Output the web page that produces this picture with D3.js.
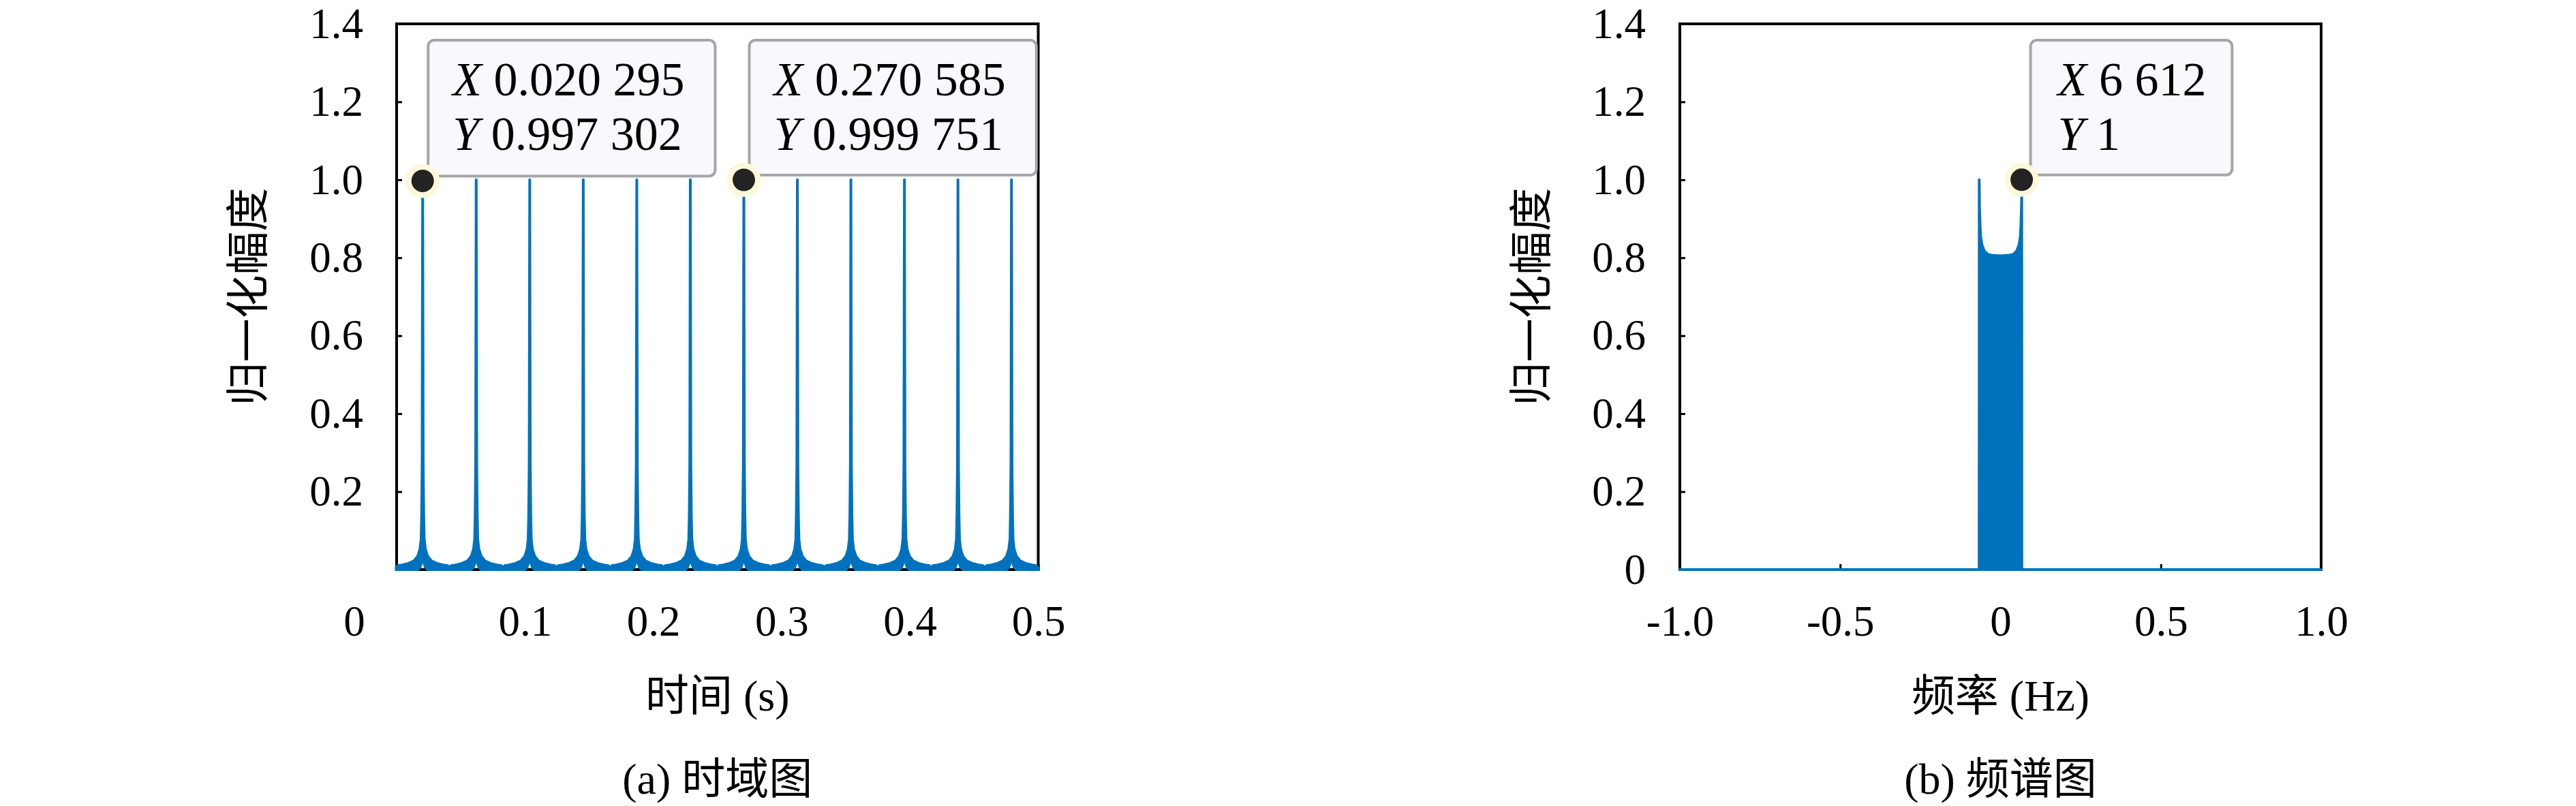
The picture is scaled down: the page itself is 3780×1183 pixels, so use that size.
<!DOCTYPE html>
<html><head><meta charset="utf-8">
<script src="https://cdn.jsdelivr.net/npm/d3@7"></script>
<style>html,body{margin:0;padding:0;background:#fff}svg{display:block}</style>
</head><body>
<svg id="chart" width="3780" height="1183"></svg>
<script>
// ================= DATA =================
// (a) time domain: peak positions and heights
const timePeakTimes  = [0.020295, 0.06201, 0.103725, 0.14544, 0.187155, 0.22887,
                        0.270585, 0.3123, 0.354015, 0.39573, 0.437445, 0.47916];
const timePeakValues = [0.997302, 1, 1, 1, 1, 1, 0.999751, 1, 1, 1, 1, 1];
// shape of one peak's tails (offset from peak centre in s -> envelope top / bottom)
const peakTailOffsets = [0.0004, 0.0008, 0.0012, 0.0021, 0.0039, 0.0069, 0.0110, 0.0160, 0.0195, 0.0206];
const peakTailValues  = [0.27,   0.14,   0.078,  0.052,  0.034,  0.022,  0.016,  0.012,  0.010,  0.005];
const peakTailLows    = [0.026,  0.020,  0.015,  0.006,  0,      0,      0,      0,      0,      0];
const peakCenterLow   = 0.032;
const timeXTicks      = [0.1, 0.2, 0.3, 0.4, 0.5];
const timeXTickLabels = ["0.1", "0.2", "0.3", "0.4", "0.5"];
const timeOriginLabel = "0";
const timeYTicks      = [0.2, 0.4, 0.6, 0.8, 1.0, 1.2, 1.4];
const timeYTickLabels = ["0.2", "0.4", "0.6", "0.8", "1.0", "1.2", "1.4"];
const timeTipX        = [0.020295, 0.270585];
const timeTipY        = [0.997302, 0.999751];
const timeTipXText    = ["0.020 295", "0.270 585"];
const timeTipYText    = ["0.997 302", "0.999 751"];

// (b) spectrum: envelope of the (densely oscillating) spectrum
const freqEnvelopeX = [-1.0, -0.0666, -0.0663, -0.0655, -0.0635, -0.0620, -0.0574, -0.0503, -0.0400, -0.0250, 0,
                        0.0250, 0.0400, 0.0503, 0.0574, 0.0620, 0.0635, 0.0655, 0.0663, 0.0666, 1.0];
const freqEnvelopeY = [0, 0, 1.0, 0.93, 0.88, 0.855, 0.832, 0.817, 0.809, 0.806, 0.805,
                       0.806, 0.809, 0.817, 0.832, 0.855, 0.88, 0.93, 1.0, 0, 0];
const freqXTicks      = [-1.0, -0.5, 0, 0.5, 1.0];
const freqXTickLabels = ["-1.0", "-0.5", "0", "0.5", "1.0"];
const freqYTicks      = [0, 0.2, 0.4, 0.6, 0.8, 1.0, 1.2, 1.4];
const freqYTickLabels = ["0", "0.2", "0.4", "0.6", "0.8", "1.0", "1.2", "1.4"];
const freqTipX        = [0.06612];
const freqTipY        = [1];
const freqTipXText    = ["6 612"];
const freqTipYText    = ["1"];

const yAxisTitle = "归一化幅度";
const timeXTitle = "时间 (s)";
const freqXTitle = "频率 (Hz)";
const timeCaption = "(a) 时域图";
const freqCaption = "(b) 频谱图";

// ================= DRAWING =================
const svg = d3.select("#chart");
const SERIF = "'Liberation Serif','Times New Roman',serif";
const MIXED = "'Liberation Serif','Noto Sans CJK SC',serif";
const BLUE = "#0072BD";

function drawPanel(o) {
  const x = d3.scaleLinear().domain(o.xDomain).range([o.left, o.right]);
  const y = d3.scaleLinear().domain([0, 1.4]).range([o.bottom, o.top]);
  const g = svg.append("g");

  // frame
  g.append("rect").attr("x", o.left).attr("y", o.top)
    .attr("width", o.right - o.left).attr("height", o.bottom - o.top)
    .attr("fill", "none").attr("stroke", "#000").attr("stroke-width", 4);

  // axes (inward ticks)
  const ya = g.append("g").attr("transform", `translate(${o.left},0)`)
    .call(d3.axisLeft(y).tickValues(o.yTicks).tickFormat((d, i) => o.yLabels[i])
      .tickSizeInner(-8).tickSizeOuter(0).tickPadding(o.yPad));
  const xa = g.append("g").attr("transform", `translate(0,${o.bottom})`)
    .call(d3.axisBottom(x).tickValues(o.xTicks).tickFormat((d, i) => o.xLabels[i])
      .tickSizeInner(-8).tickSizeOuter(0).tickPadding(52));
  [ya, xa].forEach(a => {
    a.attr("font-family", SERIF).attr("font-size", 63);
    a.select(".domain").remove();
    a.selectAll(".tick line").attr("stroke", "#000").attr("stroke-width", 3);
    a.selectAll(".tick text").attr("fill", "#000");
  });

  // data
  const area = d3.area().x(d => x(d.x)).y0(d => y(d.lo)).y1(d => y(d.hi));
  g.append("path").datum(o.points).attr("d", area)
    .attr("fill", BLUE).attr("stroke", BLUE).attr("stroke-width", 4)
    .attr("stroke-linejoin", "round").attr("stroke-linecap", "round");

  // titles
  g.append("text").attr("transform", `translate(${o.left - 218},${(o.top + o.bottom) / 2}) rotate(-90)`)
    .attr("text-anchor", "middle").attr("dominant-baseline", "central")
    .attr("font-family", MIXED).attr("font-size", 64).attr("fill", "#000").text(yAxisTitle);
  g.append("text").attr("x", (o.left + o.right) / 2).attr("y", 1043)
    .attr("text-anchor", "middle").attr("font-family", MIXED).attr("font-size", 64)
    .attr("fill", "#000").text(o.xTitle);
  g.append("text").attr("x", (o.left + o.right) / 2).attr("y", 1165)
    .attr("text-anchor", "middle").attr("font-family", MIXED).attr("font-size", 64)
    .attr("fill", "#000").text(o.caption);

  // data tips
  o.tipX.forEach((tx, i) => {
    const mx = x(tx), my = y(o.tipY[i]);
    const tg = g.append("g");
    const boxTop = y(1.4) + 24, boxBottom = my - 7, boxLeft = mx + o.tipOffset;
    const rect = tg.append("rect").attr("x", boxLeft).attr("y", boxTop)
      .attr("height", boxBottom - boxTop).attr("rx", 9)
      .attr("fill", "#f8f8fd").attr("stroke", "#a6a6a6").attr("stroke-width", 4);
    const t1 = tg.append("text").attr("x", boxLeft + o.tipPadL).attr("y", boxTop + 81)
      .attr("font-family", SERIF).attr("font-size", 70).attr("fill", "#000");
    t1.append("tspan").attr("font-style", "italic").text("X");
    t1.append("tspan").text(" " + o.tipXText[i]);
    const t2 = tg.append("text").attr("x", boxLeft + o.tipPadL).attr("y", boxTop + 161)
      .attr("font-family", SERIF).attr("font-size", 70).attr("fill", "#000");
    t2.append("tspan").attr("font-style", "italic").text("Y");
    t2.append("tspan").text(" " + o.tipYText[i]);
    const w = Math.max(t1.node().getComputedTextLength(), t2.node().getComputedTextLength());
    rect.attr("width", w + o.tipPadL + o.tipPadR);
    tg.append("circle").attr("cx", mx).attr("cy", my).attr("r", 25).attr("fill", "#fbf9d9");
    tg.append("circle").attr("cx", mx).attr("cy", my).attr("r", 16.5).attr("fill", "#232323");
  });
  return {x, y, g};
}

// build time-domain envelope points from the read peak profile
const timePoints = [];
timePeakTimes.forEach((tp, i) => {
  timePoints.push({x: tp, hi: timePeakValues[i], lo: peakCenterLow});
  peakTailOffsets.forEach((off, j) => {
    timePoints.push({x: tp - off, hi: peakTailValues[j], lo: peakTailLows[j]});
    timePoints.push({x: tp + off, hi: peakTailValues[j], lo: peakTailLows[j]});
  });
});
timePoints.sort((a, b) => a.x - b.x);

const freqPoints = freqEnvelopeX.map((f, i) => ({x: f, hi: freqEnvelopeY[i], lo: 0}));

const pA = drawPanel({
  left: 582, right: 1523.5, top: 35, bottom: 836, xDomain: [0, 0.5],
  xTicks: timeXTicks, xLabels: timeXTickLabels, yTicks: timeYTicks, yLabels: timeYTickLabels, yPad: 49,
  points: timePoints, xTitle: timeXTitle, caption: timeCaption,
  tipX: timeTipX, tipY: timeTipY, tipXText: timeTipXText, tipYText: timeTipYText,
  tipOffset: 8, tipPadL: 36, tipPadR: 45
});
// origin label of panel (a), set to the lower left of the corner
pA.g.append("text").attr("x", pA.x(0) - 62).attr("y", 932.5).attr("text-anchor", "middle")
  .attr("font-family", SERIF).attr("font-size", 63).attr("fill", "#000").text(timeOriginLabel);

drawPanel({
  left: 2465, right: 3406, top: 35, bottom: 836, xDomain: [-1, 1],
  xTicks: freqXTicks, xLabels: freqXTickLabels, yTicks: freqYTicks, yLabels: freqYTickLabels, yPad: 50,
  points: freqPoints, xTitle: freqXTitle, caption: freqCaption,
  tipX: freqTipX, tipY: freqTipY, tipXText: freqTipXText, tipYText: freqTipYText,
  tipOffset: 13, tipPadL: 40, tipPadR: 38
});
</script>
</body></html>
